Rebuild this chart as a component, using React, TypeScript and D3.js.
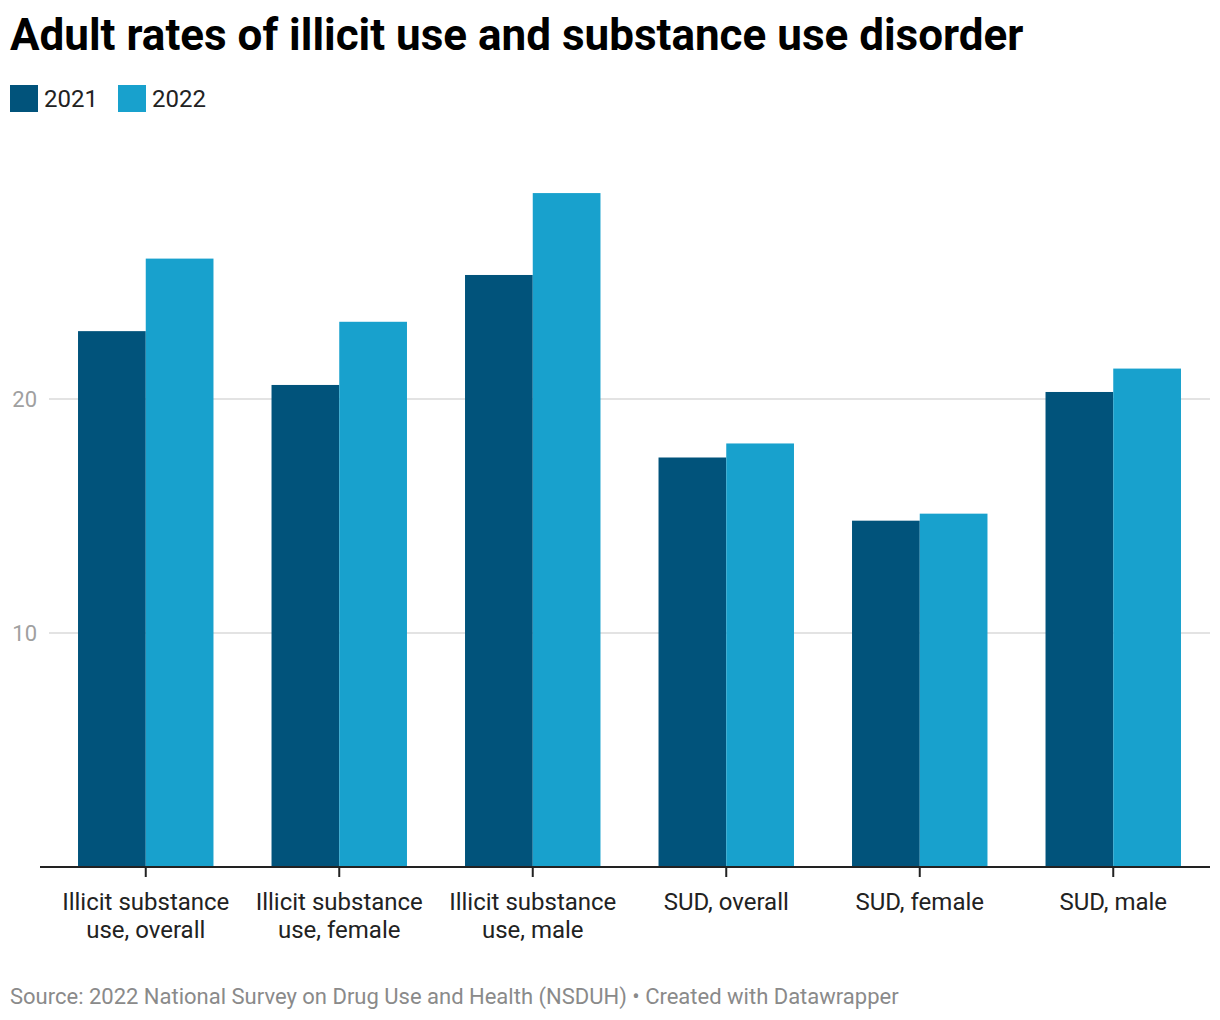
import React from "react";
import * as d3 from "d3";

const categories = [
  ["Illicit substance", "use, overall"],
  ["Illicit substance", "use, female"],
  ["Illicit substance", "use, male"],
  ["SUD, overall"],
  ["SUD, female"],
  ["SUD, male"],
];
const seriesNames = ["2021", "2022"];
const values2021 = [22.9, 20.6, 25.3, 17.5, 14.8, 20.3];
const values2022 = [26.0, 23.3, 28.8, 18.1, 15.1, 21.3];
const yTicks = [10, 20];
const colors = ["#01537b", "#18a1cd"];

const W = 1220;
const H = 1020;
const FONT = "Roboto, sans-serif";

export default function App() {
  const keys = categories.map((_, i) => String(i));
  const x0 = d3.scaleBand<string>().domain(keys).range([49, 1210]).paddingInner(0.3).paddingOuter(0.15);
  const x1 = d3.scaleBand<string>().domain(seriesNames).range([0, x0.bandwidth()]);
  const y = d3.scaleLinear().domain([0, 10]).range([867, 633]);
  const series = [values2021, values2022];

  return (
    <svg width={W} height={H} style={{ position: "absolute", left: 0, top: 0, background: "#fff" }}>
      <text x={10} y={50} fontFamily={FONT} fontWeight={700} fontSize={44} fill="#000">
        Adult rates of illicit use and substance use disorder
      </text>
      {seriesNames.map((s, i) => (
        <g key={s} transform={`translate(${10 + i * 108},85)`}>
          <rect width={28} height={27} fill={colors[i]} />
          <text x={34} y={22} fontFamily={FONT} fontSize={24} fill="#222">{s}</text>
        </g>
      ))}
      {yTicks.map((t) => (
        <g key={t}>
          <line x1={49} x2={1210} y1={y(t)} y2={y(t)} stroke="#e3e3e3" strokeWidth={2} />
          <text x={37} y={y(t) + 8} textAnchor="end" fontFamily={FONT} fontSize={22} fill="#a0a0a0">{t}</text>
        </g>
      ))}
      {keys.map((k, i) => (
        <g key={k} transform={`translate(${x0(k)},0)`}>
          {seriesNames.map((s, j) => (
            <rect key={s} x={x1(s)} y={y(series[j][i])} width={x1.bandwidth()} height={y(0) - y(series[j][i])} fill={colors[j]} />
          ))}
        </g>
      ))}
      <line x1={40} x2={1210} y1={867} y2={867} stroke="#222" strokeWidth={2} />
      {keys.map((k, i) => {
        const cx = (x0(k) as number) + x0.bandwidth() / 2;
        return (
          <g key={k}>
            <line x1={cx} x2={cx} y1={867} y2={877} stroke="#222" strokeWidth={2} />
            {categories[i].map((line, li) => (
              <text key={li} x={cx} y={910 + li * 28} textAnchor="middle" fontFamily={FONT} fontSize={24} fill="#222">{line}</text>
            ))}
          </g>
        );
      })}
      <text x={10} y={1004} fontFamily={FONT} fontSize={22} fill="#8a8a8a">
        Source: 2022 National Survey on Drug Use and Health (NSDUH) • Created with Datawrapper
      </text>
    </svg>
  );
}
